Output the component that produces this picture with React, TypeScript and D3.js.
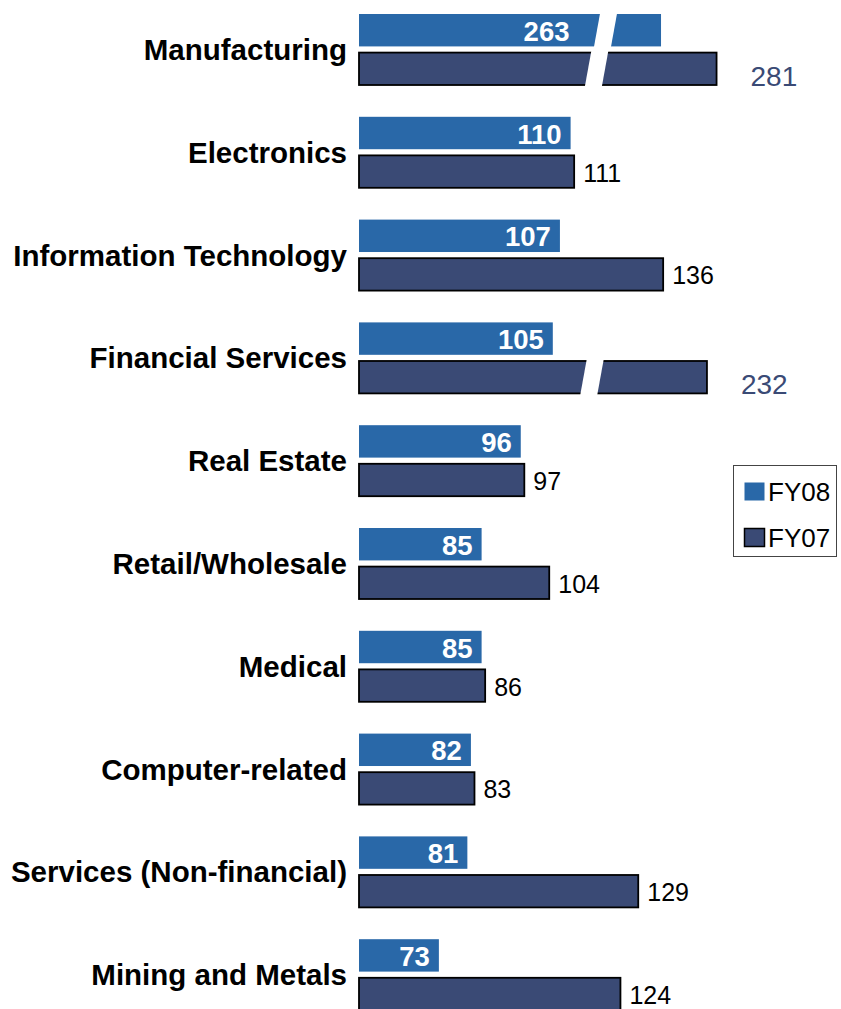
import React from 'react';
import * as d3 from 'd3';

// chart values
const categories = [
  'Manufacturing',
  'Electronics',
  'Information Technology',
  'Financial Services',
  'Real Estate',
  'Retail/Wholesale',
  'Medical',
  'Computer-related',
  'Services (Non-financial)',
  'Mining and Metals',
];
const seriesNames = ['FY08', 'FY07'];
const fy08 = [263, 110, 107, 105, 96, 85, 85, 82, 81, 73];
const fy07 = [281, 111, 136, 232, 97, 104, 86, 83, 129, 124];

// bars that run off the axis get a break: where the bar is cut off and where the gap sits (axis units)
const brokenKeys = ['Manufacturing|FY08', 'Manufacturing|FY07', 'Financial Services|FY07'];
const brokenShownTo = [135.4, 151, 148.3];
const brokenGapAt = [119.8, 117.3, 116];

const W = 841;
const H = 1009;
const FONT = '"Liberation Sans", Arial, sans-serif';
const C08 = '#2968A8';
const C07 = '#3A4A75';

export default function App() {
  const x = d3.scaleLinear().domain([50, 150]).range([357, 713]);
  const y = d3.scaleBand<string>().domain(categories).range([14, 14 + 10 * 102.8]);
  const inner = d3.scaleBand<string>().domain(seriesNames).range([0, 71]).paddingInner(0.16);

  const rows = categories.map((c, i) => ({ c, vals: [fy08[i], fy07[i]] }));

  return (
    <svg width={W} height={H} style={{ position: 'absolute', left: 0, top: 0 }} fontFamily={FONT}>
      {rows.map(({ c, vals }) => {
        const gy = y(c)!;
        return (
          <g key={c}>
            <text
              x={347}
              y={gy + 35.5}
              textAnchor="end"
              dominantBaseline="central"
              fontSize={29.5}
              fontWeight="bold"
              fill="#000"
            >
              {c}
            </text>
            {vals.map((v, si) => {
              const s = seriesNames[si];
              const by = gy + inner(s)!;
              const bh = inner.bandwidth();
              const bi = brokenKeys.indexOf(`${c}|${s}`);
              const end = bi >= 0 ? x(brokenShownTo[bi]) : x(v);
              const x0 = x.range()[0] + 2;
              const isNew = si === 0;
              let gap = null;
              if (bi >= 0) {
                const gx = x(brokenGapAt[bi]);
                const half = 8.5;
                const sl = 3.5;
                gap = (
                  <polygon
                    points={[
                      [gx - half + sl, by - 3],
                      [gx + half + sl, by - 3],
                      [gx + half - sl, by + bh + 3],
                      [gx - half - sl, by + bh + 3],
                    ]
                      .map((p) => p.join(','))
                      .join(' ')}
                    fill="#fff"
                  />
                );
              }
              let label;
              if (isNew) {
                const lx = bi >= 0 ? x(brokenGapAt[bi]) - 36 : end - 9;
                label = (
                  <text
                    x={lx}
                    y={by + bh / 2 + 1}
                    textAnchor="end"
                    dominantBaseline="central"
                    fontSize={27.5}
                    fontWeight="bold"
                    fill="#fff"
                  >
                    {v}
                  </text>
                );
              } else if (bi >= 0) {
                label = (
                  <text x={end + 34} y={by + bh + 1} fontSize={28} fill={C07}>
                    {v}
                  </text>
                );
              } else {
                label = (
                  <text x={end + 9} y={by + bh / 2 + 1} dominantBaseline="central" fontSize={25} fill="#000">
                    {v}
                  </text>
                );
              }
              return (
                <g key={s}>
                  <rect
                    x={x0}
                    y={by}
                    width={end - x0}
                    height={bh}
                    fill={isNew ? C08 : C07}
                    stroke={isNew ? 'none' : '#000'}
                    strokeWidth={isNew ? 0 : 1.8}
                  />
                  {gap}
                  {label}
                </g>
              );
            })}
          </g>
        );
      })}
      <g>
        <rect x={733.5} y={465.5} width={103} height={91} fill="#fff" stroke="#444" strokeWidth={1} />
        {seriesNames.map((s, i) => (
          <g key={s} transform={`translate(744, ${482 + i * 46})`}>
            <rect
              x={0.5}
              y={0.5}
              width={20}
              height={18}
              fill={i === 0 ? C08 : C07}
              stroke={i === 0 ? 'none' : '#000'}
              strokeWidth={1.5}
            />
            <text x={24} y={10} dominantBaseline="central" fontSize={26} fill="#000">
              {s}
            </text>
          </g>
        ))}
      </g>
    </svg>
  );
}
